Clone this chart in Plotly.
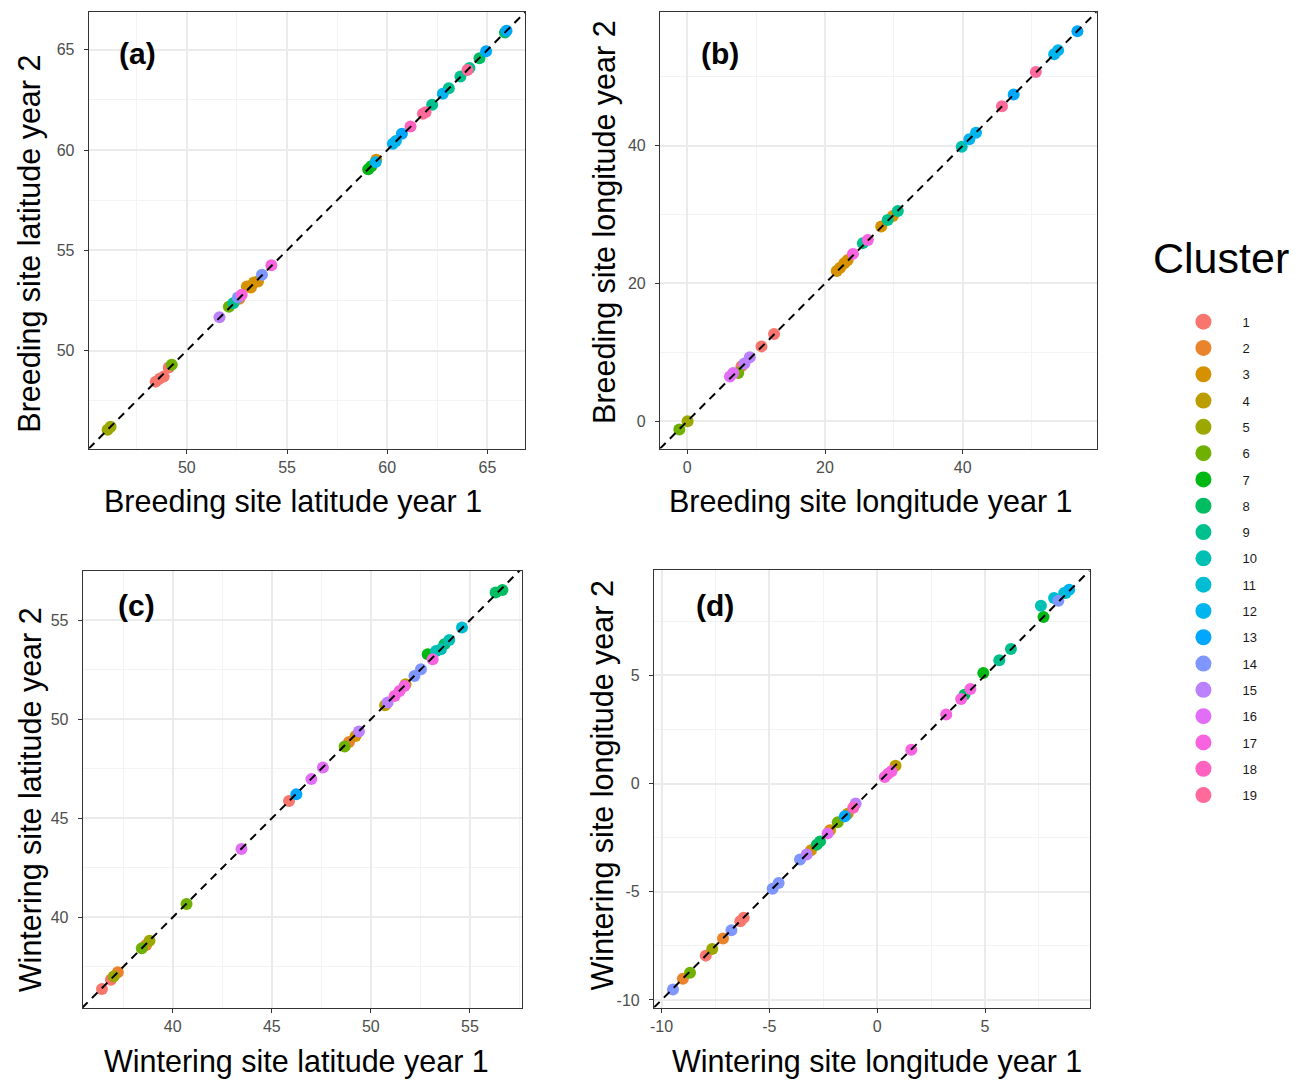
import math
import plotly.graph_objects as go

# ---------------- data ----------------
a_cluster = [5, 5, 1, 1, 1, 1, 6, 15, 6, 9, 14, 2, 17, 3, 3, 3, 3, 14, 17, 7, 7, 3, 12, 12, 12, 13, 18, 19, 19, 9, 12, 9, 9, 9, 19, 8, 13, 13, 8]
a_year1 = [46.05, 46.2, 48.45, 48.65, 48.85, 49.1, 49.25, 51.63, 52.1, 52.32, 52.55, 52.62, 52.74, 53.0, 53.2, 53.35, 53.55, 53.75, 54.22,
           59.05, 59.2, 59.45, 59.42, 60.28, 60.43, 60.73, 61.16, 61.78, 61.91, 62.24, 62.77, 63.07, 63.65, 64.1, 64.0, 64.6, 64.93, 65.95, 65.87]
a_year2 = [46.05, 46.2, 48.45, 48.6, 48.7, 49.15, 49.29, 51.66, 52.19, 52.36, 52.65, 52.58, 52.78, 53.2, 53.15, 53.4, 53.45, 53.78, 54.26,
           59.05, 59.2, 59.52, 59.4, 60.32, 60.45, 60.82, 61.18, 61.81, 61.89, 62.26, 62.81, 63.09, 63.67, 64.1, 64.0, 64.58, 64.93, 65.95, 65.87]

b_cluster = [6, 5, 16, 16, 6, 1, 15, 15, 1, 1, 3, 3, 3, 3, 17, 9, 17, 3, 9, 3, 9, 10, 12, 12, 19, 13, 19, 12, 12, 13]
b_year1 = [-1.16, 0.04, 6.2, 6.67, 7.4, 7.87, 8.3, 9.07, 10.77, 12.6, 21.7, 22.2, 22.8, 23.3, 24.06, 25.5, 26.23, 28.16, 29.1, 29.86, 30.58,
           39.86, 40.96, 41.93, 45.7, 47.4, 50.62, 53.28, 53.86, 56.66]
b_year2 = [-1.2, 0.0, 6.5, 7.0, 7.0, 7.97, 8.4, 9.3, 10.87, 12.67, 21.8, 22.3, 22.95, 23.4, 24.3, 25.86, 26.33, 28.26, 29.23, 29.81, 30.54,
           39.86, 40.93, 41.88, 45.75, 47.45, 50.72, 53.29, 53.87, 56.62]

c_cluster = [1, 1, 5, 2, 6, 2, 5, 6, 16, 1, 13, 16, 16, 6, 2, 3, 15, 15, 4, 17, 17, 17, 4, 14, 14, 17, 7, 10, 10, 8, 10, 11, 8, 8]
c_year1 = [36.43, 36.88, 37.02, 37.23, 38.44, 38.66, 38.83, 40.7, 43.47, 45.87, 46.24, 47.0, 47.58, 48.68, 48.9, 49.23, 49.4,
           50.85, 50.72, 51.2, 51.45, 51.7, 51.75, 52.2, 52.53, 53.12, 52.87, 53.29, 53.54, 53.71, 53.96, 54.6, 56.3, 56.64]
c_year2 = [36.38, 36.85, 37.02, 37.23, 38.44, 38.6, 38.82, 40.67, 43.45, 45.88, 46.22, 46.98, 47.57, 48.63, 48.86, 49.16, 49.38,
           50.85, 50.71, 51.18, 51.43, 51.68, 51.77, 52.19, 52.53, 53.03, 53.28, 53.45, 53.54, 53.79, 54.0, 54.63, 56.4, 56.53]

d_cluster = [14, 2, 6, 1, 5, 2, 14, 1, 1, 14, 14, 14, 15, 3, 8, 8, 16, 3, 6, 13, 4, 18, 15, 17, 17, 17, 4, 17, 17, 8, 17, 17,
             7, 9, 9, 7, 10, 14, 11, 11, 10, 12]
d_year1 = [-9.47, -9.01, -8.68, -7.95, -7.65, -7.15, -6.76, -6.35, -6.19, -4.85, -4.57, -3.58, -3.27, -3.07, -2.8, -2.65, -2.3, -2.19,
           -1.83, -1.5, -1.37, -1.11, -1.0, 0.35, 0.5, 0.66, 0.85, 1.58, 3.2, 4.05, 3.89, 4.32,
           4.92, 5.66, 6.2, 7.71, 7.59, 8.4, 8.2, 8.67, 8.74, 8.9]
d_year2 = [-9.52, -9.02, -8.74, -7.95, -7.64, -7.16, -6.78, -6.36, -6.2, -4.86, -4.59, -3.51, -3.28, -3.08, -2.82, -2.67, -2.3, -2.16,
           -1.79, -1.51, -1.39, -1.12, -0.92, 0.31, 0.45, 0.57, 0.83, 1.57, 3.19, 4.11, 3.91, 4.37,
           5.11, 5.7, 6.22, 7.7, 8.22, 8.45, 8.58, 8.81, 8.81, 8.96]

clusters = list(range(1, 20))

panel_labels = ["(a)", "(b)", "(c)", "(d)"]
x_titles = ["Breeding site latitude year 1", "Breeding site longitude year 1",
            "Wintering site latitude year 1", "Wintering site longitude year 1"]
y_titles = ["Breeding site latitude year 2", "Breeding site longitude year 2",
            "Wintering site latitude year 2", "Wintering site longitude year 2"]

a_ticks = [50, 55, 60, 65]
b_ticks = [0, 20, 40]
c_ticks = [40, 45, 50, 55]
d_ticks = [-10, -5, 0, 5]
d_ticktext = ["-10", "-5", "0", "5"]


# ---------------- colours (ggplot2 default hue palette) ----------------
def hue_pal(n, c=100.0, l=65.0):
    start, end = 15.0, 375.0 - 360.0 / n
    hues = [start + (end - start) * i / (n - 1) for i in range(n)]
    Xn, Yn, Zn = 95.047, 100.0, 108.883
    den = Xn + 15 * Yn + 3 * Zn
    un, vn = 4 * Xn / den, 9 * Yn / den
    out = []
    for h in hues:
        u = c * math.cos(math.radians(h))
        v = c * math.sin(math.radians(h))
        Y = Yn * ((l + 16) / 116) ** 3
        up = u / (13 * l) + un
        vp = v / (13 * l) + vn
        X = Y * 9 * up / (4 * vp)
        Z = Y * (12 - 3 * up - 20 * vp) / (4 * vp)
        X, Y, Z = X / 100, Y / 100, Z / 100
        rgb = [3.2404542 * X - 1.5371385 * Y - 0.4985314 * Z,
               -0.9692660 * X + 1.8760108 * Y + 0.0415560 * Z,
               0.0556434 * X - 0.2040259 * Y + 1.0572252 * Z]
        res = []
        for ch in rgb:
            ch = 12.92 * ch if ch <= 0.0031308 else 1.055 * (ch ** (1 / 2.4)) - 0.055 if ch > 0 else 0
            ch = min(max(ch, 0.0), 1.0)
            res.append(int(round(ch * 255)))
        out.append("#%02X%02X%02X" % tuple(res))
    return out


colors = hue_pal(len(clusters))

# ---------------- layout geometry ----------------
W, H = 1300, 1080


def xdom(l, r):
    return [l / W, r / W]


def ydom(t, b):
    return [1 - b / H, 1 - t / H]


panels = [
    dict(cl=a_cluster, x=a_year1, y=a_year2, xr=[45.11, 66.89], yr=[45.11, 66.89], ticks=a_ticks, tt=None, minor=2.5,
         xd=xdom(85, 523), yd=ydom(12, 449)),
    dict(cl=b_cluster, x=b_year1, y=b_year2, xr=[-3.97, 59.45], yr=[-3.97, 59.42], ticks=b_ticks, tt=None, minor=10,
         xd=xdom(658, 1096), yd=ydom(12, 449)),
    dict(cl=c_cluster, x=c_year1, y=c_year2, xr=[35.46, 57.65], yr=[35.42, 57.49], ticks=c_ticks, tt=None, minor=2.5,
         xd=xdom(79, 520), yd=ydom(571.5, 1009)),
    dict(cl=d_cluster, x=d_year1, y=d_year2, xr=[-10.35, 9.85], yr=[-10.35, 9.85], ticks=d_ticks, tt=d_ticktext, minor=2.5,
         xd=xdom(652, 1089), yd=ydom(571, 1008.5)),
]

FONT = "Arial, Liberation Sans, Helvetica, sans-serif"
fig = go.Figure()

for pi, p in enumerate(panels):
    xa = "x" if pi == 0 else "x%d" % (pi + 1)
    ya = "y" if pi == 0 else "y%d" % (pi + 1)
    for k, col in zip(clusters, colors):
        idx = [i for i, c in enumerate(p["cl"]) if c == k]
        if not idx:
            continue
        fig.add_trace(go.Scatter(
            x=[p["x"][i] for i in idx], y=[p["y"][i] for i in idx],
            mode="markers", xaxis=xa, yaxis=ya,
            marker=dict(color=col, size=12, line=dict(width=0)),
            name=str(k), legendgroup=str(k), showlegend=False,
            hovertemplate="Cluster " + str(k) + "<br>year 1: %{x}<br>year 2: %{y}<extra></extra>"))
    # identity line y = x across the panel
    lo = min(p["xr"][0], p["yr"][0])
    hi = max(p["xr"][1], p["yr"][1])
    fig.add_trace(go.Scatter(x=[lo, hi], y=[lo, hi], mode="lines", xaxis=xa, yaxis=ya,
                             line=dict(color="black", width=2, dash="8px,6px"),
                             showlegend=False, hoverinfo="skip"))

# legend entries
for k, col in zip(clusters, colors):
    fig.add_trace(go.Scatter(x=[None], y=[None], mode="markers", xaxis="x", yaxis="y",
                             marker=dict(color=col, size=20), name=str(k), legendgroup=str(k),
                             showlegend=True, legendrank=k))

axis_common = dict(showline=True, mirror=True, linecolor="#333333", linewidth=1.2,
                   ticks="outside", ticklen=4, tickwidth=1, tickcolor="#333333",
                   showgrid=True, gridcolor="#EBEBEB", gridwidth=1.6, zeroline=False,
                   tickfont=dict(family=FONT, size=16, color="#4D4D4D"))

layout = dict(width=W, height=H, margin=dict(l=0, r=0, t=0, b=0),
              paper_bgcolor="white", plot_bgcolor="white",
              font=dict(family=FONT, color="black"))
for pi, p in enumerate(panels):
    sx = "" if pi == 0 else str(pi + 1)
    tickkw = dict(tickmode="array", tickvals=p["ticks"])
    if p["tt"]:
        tickkw["ticktext"] = p["tt"]
    minor = dict(dtick=p["minor"], showgrid=True, gridcolor="#F3F3F3", gridwidth=1, ticklen=0)
    layout["xaxis" + sx] = dict(domain=p["xd"], range=p["xr"], anchor="y" + sx, minor=minor,
                                ticklabelstandoff=0, **tickkw, **axis_common)
    layout["yaxis" + sx] = dict(domain=p["yd"], range=p["yr"], anchor="x" + sx, minor=minor,
                                ticklabelstandoff=6, **tickkw, **axis_common)
fig.update_layout(**layout)

# annotations: axis titles, panel labels, legend title
xt_pos = [(290, 502), (870, 502), (293, 1062), (876, 1062)]
yt_pos = [(26, 244), (603, 222), (26, 800), (600, 786)]
pl_pos = [(134, 54), (718, 54), (133, 606), (713, 606)]
ann = []
for i in range(4):
    ann.append(dict(text=x_titles[i], x=xt_pos[i][0] / W, y=1 - xt_pos[i][1] / H, xref="paper", yref="paper",
                    showarrow=False, xanchor="center", yanchor="middle", font=dict(family=FONT, size=30.5, color="black")))
    ann.append(dict(text=y_titles[i], x=yt_pos[i][0] / W, y=1 - yt_pos[i][1] / H, xref="paper", yref="paper",
                    showarrow=False, xanchor="center", yanchor="middle", textangle=-90,
                    font=dict(family=FONT, size=30.5, color="black")))
    ann.append(dict(text="<b>" + panel_labels[i] + "</b>", x=pl_pos[i][0] / W, y=1 - pl_pos[i][1] / H,
                    xref="paper", yref="paper", showarrow=False, xanchor="center", yanchor="middle",
                    font=dict(family=FONT, size=30, color="black")))
ann.append(dict(text="Cluster", x=1221 / W, y=1 - 258 / H, xref="paper", yref="paper", showarrow=False,
                xanchor="center", yanchor="middle", font=dict(family=FONT, size=43, color="black")))
fig.update_layout(annotations=ann)

fig.update_layout(legend=dict(x=1164 / W, y=1 - 307 / H, xanchor="left", yanchor="top",
                              bgcolor="rgba(0,0,0,0)", font=dict(family=FONT, size=13, color="#1A1A1A"),
                              tracegroupgap=6.4, itemsizing="trace", itemwidth=68),
                  showlegend=True)

fig.write_html("out.html", config={"displayModeBar": False},
               post_script="document.body.style.margin='0px';document.documentElement.style.overflow='hidden';")
